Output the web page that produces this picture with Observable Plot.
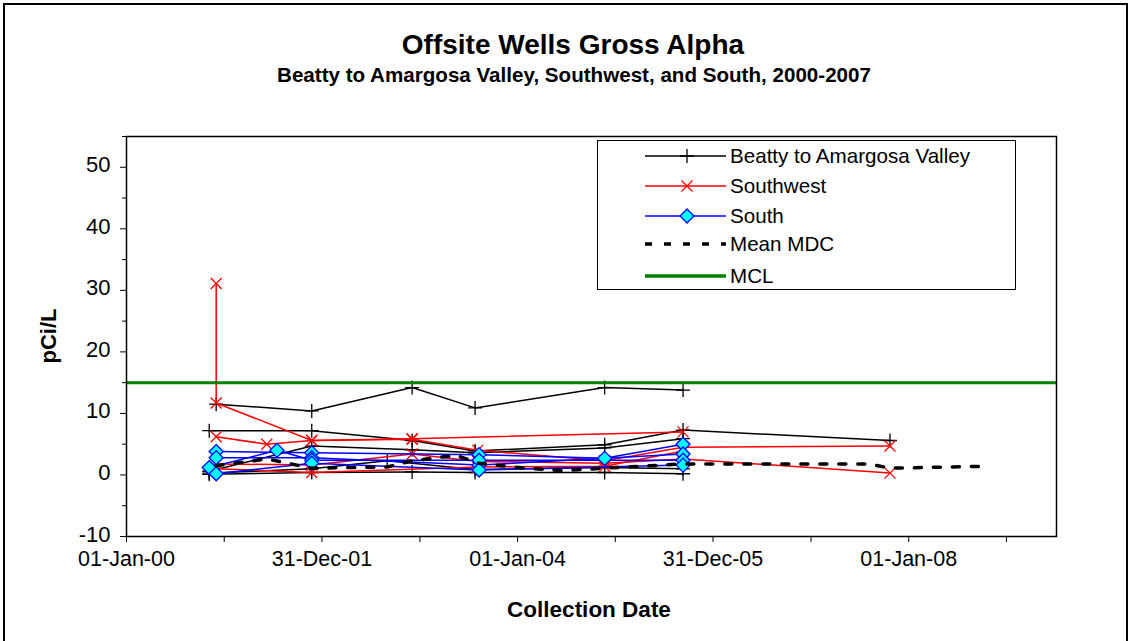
<!DOCTYPE html>
<html><head><meta charset="utf-8">
<script src="https://cdn.jsdelivr.net/npm/d3@7"></script>
<script src="https://cdn.jsdelivr.net/npm/@observablehq/plot@0.6"></script>
<style>
body{margin:0;background:#fff;font-family:"Liberation Sans",Arial,sans-serif;}
#wrap{position:relative;width:1132px;height:641px;overflow:hidden;background:#fff;}
#border{position:absolute;left:3px;top:3px;width:1121px;height:700px;border:2px solid #000;}
#chart{position:absolute;left:0;top:0;}
.t{position:absolute;white-space:nowrap;font-weight:bold;color:#000;}
#legend{position:absolute;left:597px;top:140px;width:419px;height:150px;border:1px solid #000;background:#fff;box-sizing:border-box;}
.row{position:absolute;left:0;height:30px;display:flex;align-items:center;font-size:20.6px;color:#000;}
.row svg{display:block;}
</style></head><body>
<div id="wrap">
<div id="border"></div>
<div id="chart"></div>
<div class="t" id="title" style="font-size:28px;left:573px;top:45px;transform:translate(-50%,-50%);">Offsite Wells Gross Alpha</div>
<div class="t" id="subtitle" style="font-size:20.6px;left:574px;top:75px;transform:translate(-50%,-50%);">Beatty to Amargosa Valley, Southwest, and South, 2000-2007</div>
<div class="t" id="xlabel" style="font-size:22.5px;left:589px;top:610px;transform:translate(-50%,-50%);">Collection Date</div>
<div class="t" id="ylabel" style="font-size:22px;left:49px;top:336px;transform:translate(-50%,-50%) rotate(-90deg);">pCi/L</div>
<div id="legend"></div>
</div>
<script>
// ---- data ----
const beatty1 = [["2000-12-01",11.5],["2001-11-23",10.4],["2002-12-03",14.2],["2003-07-26",10.9],["2004-11-21",14.2],["2005-09-10",13.8]];
const beatty2 = [["2000-11-05",7.2],["2001-11-23",7.2],["2002-12-03",5.6],["2003-07-26",3.9],["2004-11-21",4.9],["2005-09-10",7.3],["2007-10-23",5.6]];
const beatty3 = [["2000-11-05",0.6],["2001-11-23",4.7],["2002-12-03",4.1],["2003-07-26",3.6],["2004-11-21",4.4],["2005-09-10",5.9]];
const beatty4 = [["2000-11-05",0.3],["2001-11-23",1.0],["2002-09-01",2.3],["2003-07-26",0.9],["2004-11-21",1.2],["2005-09-10",1.0]];
const beatty5 = [["2000-11-05",0.1],["2001-11-23",0.4],["2002-12-03",0.5],["2003-07-26",0.4],["2004-11-21",0.4],["2005-09-10",0.2]];

const southwest1 = [["2000-12-01",31.1],["2000-12-01",11.7],["2001-11-23",5.6],["2002-12-03",5.8],["2003-08-05",4.0],["2004-11-21",2.3],["2005-09-10",4.5],["2007-10-23",4.7]];
const southwest2 = [["2000-12-01",6.2],["2001-06-08",5.0],["2001-11-23",5.6],["2002-12-03",5.9],["2005-09-10",7.0]];
const southwest3 = [["2000-12-01",1.8],["2001-11-23",1.6],["2002-12-03",3.4],["2003-08-05",2.2],["2004-11-21",1.9],["2005-09-10",2.6],["2007-10-23",0.3]];
const southwest4 = [["2000-12-01",1.0],["2001-11-23",0.4],["2003-08-05",1.3],["2004-11-21",1.4],["2005-09-10",3.9]];

const south1 = [["2000-12-01",3.8],["2001-11-23",3.6],["2003-08-10",3.3],["2004-11-21",2.7],["2005-09-10",5.0]];
const south2 = [["2000-12-01",2.8],["2001-11-23",2.8],["2003-08-10",1.6],["2005-09-10",3.4]];
const south3 = [["2000-11-05",1.2],["2001-07-16",4.0],["2001-11-23",2.4],["2003-08-10",2.4],["2005-09-10",2.4]];
const south4 = [["2000-12-01",0.2],["2001-11-23",1.9],["2003-08-10",0.8],["2005-09-10",1.6]];

const meanMDC = [["2000-12-01",1.5],["2001-06-08",2.6],["2001-11-23",1.1],["2002-09-01",1.3],["2002-12-03",2.3],["2003-05-15",3.2],["2003-08-10",1.9],["2004-02-01",1.1],["2004-06-15",0.7],["2004-11-21",1.1],["2005-09-10",1.8],["2007-08-05",1.8],["2007-10-23",1.1],["2008-09-30",1.4]];
const mclValue = [15];

const xDomain = ["2000-01-01","2009-07-06"];
const yDomain = [-10, 55];
const yMajorTicks = [-10, 0, 10, 20, 30, 40, 50];
const yMinorTicks = [-5, 5, 15, 25, 35, 45, 55];
const xMajorTickDates = ["2000-01-01","2001-12-31","2004-01-01","2005-12-31","2008-01-01"];
const xMinorTickDates = ["2000-12-31","2003-01-01","2004-12-31","2007-01-01","2008-12-31"];
const legendLabels = ["Beatty to Amargosa Valley", "Southwest", "South", "Mean MDC", "MCL"];

// ---- build ----
const parse = d3.utcParse("%Y-%m-%d");
const rows = (arr, well) => arr.map(([d, v]) => ({well, date: parse(d), value: v}));
const beattyRows = [beatty1, beatty2, beatty3, beatty4, beatty5].flatMap((a, i) => rows(a, "B" + i));
const swRows = [southwest1, southwest2, southwest3, southwest4].flatMap((a, i) => rows(a, "SW" + i));
const southRows = [south1, south2, south3, south4].flatMap((a, i) => rows(a, "S" + i));
const mdcRows = rows(meanMDC, "MDC");

const xMajor = xMajorTickDates.map(parse);
const xMinor = xMinorTickDates.map(parse);

const plusSym = {draw(ctx) { const r = 7; ctx.moveTo(-r, 0); ctx.lineTo(r, 0); ctx.moveTo(0, -r); ctx.lineTo(0, r); }};
const timesSym = {draw(ctx) { const r = 5.5; ctx.moveTo(-r, -r); ctx.lineTo(r, r); ctx.moveTo(-r, r); ctx.lineTo(r, -r); }};
const diamondSym = {draw(ctx) { const r = 7; ctx.moveTo(0, -r); ctx.lineTo(r, 0); ctx.lineTo(0, r); ctx.lineTo(-r, 0); ctx.closePath(); }};

const BLACK = "#000000", RED = "#ff0000", BLUE = "#0000ff", CYAN = "#00ffff", GREEN = "#008000";

const chart = Plot.plot({
  width: 1132, height: 641,
  marginLeft: 126, marginRight: 76, marginTop: 136, marginBottom: 105,
  style: {background: "transparent", fontFamily: "Liberation Sans, Arial, sans-serif", color: "#000"},
  x: {type: "utc", domain: xDomain.map(parse)},
  y: {domain: yDomain},
  marks: [
    Plot.line(beattyRows, {x: "date", y: "value", z: "well", stroke: BLACK, strokeWidth: 1.5}),
    Plot.dot(beattyRows, {x: "date", y: "value", symbol: plusSym, r: 7, stroke: BLACK, fill: "none", strokeWidth: 1.3}),
    Plot.line(swRows, {x: "date", y: "value", z: "well", stroke: RED, strokeWidth: 1.5}),
    Plot.dot(swRows, {x: "date", y: "value", symbol: timesSym, r: 6, stroke: RED, fill: "none", strokeWidth: 1.3}),
    Plot.line(southRows, {x: "date", y: "value", z: "well", stroke: BLUE, strokeWidth: 1.5}),
    Plot.dot(southRows, {x: "date", y: "value", symbol: diamondSym, r: 7, stroke: BLUE, fill: CYAN, strokeWidth: 1.3}),
    Plot.line(mdcRows, {x: "date", y: "value", stroke: BLACK, strokeWidth: 3.5, strokeDasharray: "7,12"}),
    Plot.ruleY(mclValue, {stroke: GREEN, strokeWidth: 3}),
    Plot.frame({stroke: BLACK, strokeWidth: 1.5}),
    Plot.axisY({ticks: yMajorTicks, tickSize: 6, tickFormat: () => "", label: null}),
    Plot.axisY({ticks: yMajorTicks, tickSize: 0, tickPadding: 16, fontSize: 22, dy: -2, tickFormat: d => String(d), label: null}),
    Plot.axisY({ticks: yMinorTicks, tickSize: 4, tickFormat: () => "", label: null}),
    Plot.axisX({ticks: xMajor, tickSize: 6, tickPadding: 8, fontSize: 21.5, tickFormat: d3.utcFormat("%d-%b-%y"), label: null}),
    Plot.axisX({ticks: xMinor, tickSize: 6, tickFormat: () => "", label: null})
  ]
});
document.getElementById("chart").appendChild(chart);

// legend
const legend = document.getElementById("legend");
const rowTops = [0, 30, 60, 88, 120];
const ns = "http://www.w3.org/2000/svg";
legendLabels.forEach((label, i) => {
  const row = document.createElement("div");
  row.className = "row";
  row.style.top = rowTops[i] + "px";
  const svg = document.createElementNS(ns, "svg");
  svg.setAttribute("width", 132); svg.setAttribute("height", 30);
  const line = document.createElementNS(ns, "line");
  line.setAttribute("x1", 47); line.setAttribute("x2", 128); line.setAttribute("y1", 15); line.setAttribute("y2", 15);
  const stroke = [BLACK, RED, BLUE, BLACK, GREEN][i];
  line.setAttribute("stroke", stroke);
  line.setAttribute("stroke-width", [1.5, 1.5, 1.5, 3.5, 3.5][i]);
  if (i === 3) line.setAttribute("stroke-dasharray", "7,12");
  svg.appendChild(line);
  const p = document.createElementNS(ns, "path");
  const cx = 89, cy = 15;
  if (i === 0) { p.setAttribute("d", `M${cx-7},${cy}H${cx+7}M${cx},${cy-7}V${cy+7}`); p.setAttribute("stroke", BLACK); p.setAttribute("fill", "none"); }
  if (i === 1) { p.setAttribute("d", `M${cx-5.5},${cy-5.5}L${cx+5.5},${cy+5.5}M${cx-5.5},${cy+5.5}L${cx+5.5},${cy-5.5}`); p.setAttribute("stroke", RED); p.setAttribute("fill", "none"); }
  if (i === 2) { p.setAttribute("d", `M${cx},${cy-7}L${cx+7},${cy}L${cx},${cy+7}L${cx-7},${cy}Z`); p.setAttribute("stroke", BLUE); p.setAttribute("fill", CYAN); }
  p.setAttribute("stroke-width", 1.3);
  if (i < 3) svg.appendChild(p);
  row.appendChild(svg);
  const span = document.createElement("span");
  span.textContent = label;
  row.appendChild(span);
  legend.appendChild(row);
});
</script>
</body></html>
